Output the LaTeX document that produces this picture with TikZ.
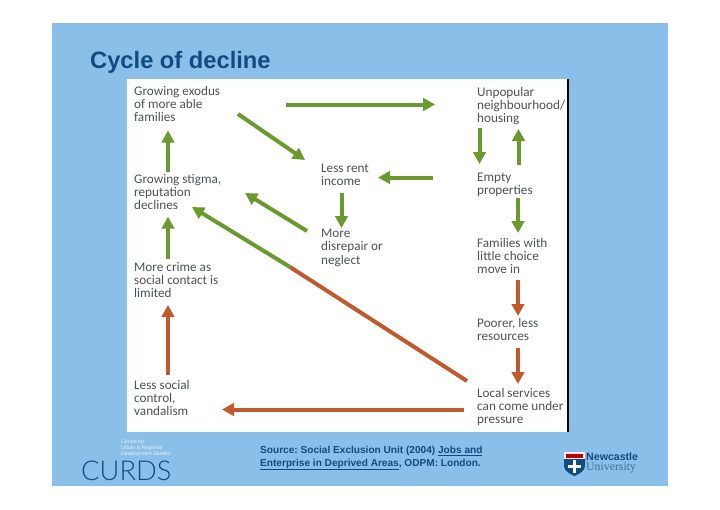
\documentclass[tikz,border=0pt]{standalone}
\usepackage{fontspec}
\setmainfont{Carlito}
\newfontfamily\headfont{Liberation Sans}
\newfontfamily\uniserif{Liberation Serif}
\newfontfamily\curdsfont{Lato Light}
\usetikzlibrary{arrows.meta}
\definecolor{slide-blue}{HTML}{8ABFE9}
\definecolor{head-blue}{HTML}{0F4C7F}
\definecolor{step-grey}{HTML}{4C5359}
\definecolor{arrow-green}{HTML}{6A9A2D}
\definecolor{arrow-red}{HTML}{C0592B}
\frenchspacing
\begin{document}
\begin{tikzpicture}[x=1pt, y=-1pt,
label-step/.style={anchor=north west, inner sep=0pt, align=left, text=step-grey,
font=\fontsize{13.2}{13.3}\selectfont, execute at begin node={\rule{0pt}{10pt}}},
link/.style={line width=4pt, -{Triangle[length=12pt, width=12.5pt]}},
link-green/.style={link, draw=arrow-green, arrow-green},
link-red/.style={link, draw=arrow-red, arrow-red},
source/.style={anchor=north west, inner sep=0pt, align=left, text=head-blue,
font=\headfont\bfseries\fontsize{10.1}{12.6}\selectfont}
]

% slide
\useasboundingbox (0,0) rectangle (720,509);
\fill[white] (0,0) rectangle (720,509);
\fill[slide-blue] (52,23) rectangle (668,486);
\fill[white] (127,79) rectangle (568,432);
\draw[black, line width=1.2pt] (568,79) -- (568,432);

\node [anchor=base west, inner sep=0pt, text=head-blue, font=\headfont\bfseries\fontsize{23.7}{26}\selectfont]
  (title) at (90,68) {Cycle of decline};

% steps of the cycle
\node [label-step] (exodus) at (134,85.7) {Growing exodus\\of more able\\families};
\node [label-step] (stigma) at (134,174) {Growing stigma,\\reputation\\declines};
\node [label-step] (crime) at (134,262) {More crime as\\social contact is\\limited};
\node [label-step] (social) at (134,380) {Less social\\control,\\vandalism};
\node [label-step] (rent) at (321,164) {Less rent\\income};
\node [label-step] (disrepair) at (321,229) {More\\disrepair or\\neglect};
\node [label-step] (unpopular) at (477,86.7) {Unpopular\\neighbourhood/\\housing};
\node [label-step] (empty) at (477,172.7) {Empty\\properties};
\node [label-step] (families) at (477,238) {Families with\\little choice\\move in};
\node [label-step] (poorer) at (477,318) {Poorer, less\\resources};
\node [label-step] (local) at (477,388) {Local services\\can come under\\pressure};

% arrows, offsets are from the north west corner of each node
\draw [link-green] ([shift={(34,-2.3)}]stigma.north west) -- ([shift={(34,44.8)}]exodus.north west);
\draw [link-green] ([shift={(34,-3.3)}]crime.north west) -- ([shift={(34,42.7)}]stigma.north west);
\draw [link-red] ([shift={(34,-5)}]social.north west) -- ([shift={(34,43)}]crime.north west);
\draw [link-green] ([shift={(152,18.8)}]exodus.north west) -- ([shift={(-42,17.8)}]unpopular.north west);
\draw [link-green] ([shift={(104,28.3)}]exodus.north west) -- ([shift={(-16,-4)}]rent.north west);
\draw [link-green] ([shift={(-14,2)}]disrepair.north west) -- ([shift={(111,19)}]stigma.north west);
\draw [link-green] ([shift={(20.5,29)}]rent.north west) -- ([shift={(20.5,-1)}]disrepair.north west);
\draw [link-green] ([shift={(-44,4.8)}]empty.north west) -- ([shift={(57,13.5)}]rent.north west);
\draw [link-green] ([shift={(2.5,41.3)}]unpopular.north west) -- ([shift={(2.5,-8.7)}]empty.north west);
\draw [link-green] ([shift={(41.5,-7.7)}]empty.north west) -- ([shift={(41.5,42.3)}]unpopular.north west);
\draw [link-green] ([shift={(41,25.3)}]empty.north west) -- ([shift={(41,-5)}]families.north west);
\draw [link-red] ([shift={(41,42)}]families.north west) -- ([shift={(41,-2)}]poorer.north west);
\draw [link-red] ([shift={(41,30)}]poorer.north west) -- ([shift={(41,-4)}]local.north west);
\draw [link-red] ([shift={(-13,21.5)}]local.north west) -- ([shift={(88,29.5)}]social.north west);
% the long one changes colour half way
\coordinate (bend) at (290,267);
\draw [line width=4pt, arrow-red] ([shift={(-10,-7)}]local.north west) -- (bend);
\draw [link-green] (bend) -- ([shift={(58,33)}]stigma.north west);

% footer
\node [source] (credit) at (260,446) {Source: Social Exclusion Unit (2004) \underline{Jobs and}\\
\underline{Enterprise in Deprived Areas}, ODPM: London.};
\node [anchor=north west, inner sep=0pt, align=left, text=white!80!slide-blue,
font=\headfont\fontsize{5.2}{6}\selectfont] (centre) at (121,440) {Centre for\\Urban \& Regional\\Development Studies};
\node [anchor=base west, inner sep=0pt, text=head-blue, font=\curdsfont\fontsize{27.3}{28}\selectfont]
  (curds) at (81,480) {CURDS};

% university logo
\fill[head-blue] (564,459) -- (585,459) -- (585,466) .. controls (585,471) and (579,474) .. (574.5,476)
  .. controls (570,474) and (564,471) .. (564,466) -- cycle;
\fill[white!92!red] (564,452) rectangle (585,459);
\fill[red!75!black] (566,454) rectangle (583,458);
\fill[white] (573,460) rectangle (576,473);
\fill[white] (568,464.5) rectangle (581,467.5);
\node [anchor=base west, inner sep=0pt, text=head-blue, font=\headfont\bfseries\fontsize{10.6}{11}\selectfont]
  (newcastle) at (586,460) {Newcastle};
\node [anchor=base west, inner sep=0pt, text=head-blue!80!white, font=\uniserif\fontsize{11.8}{12}\selectfont]
  (university) at (586,470) {University};

\end{tikzpicture}
\end{document}
